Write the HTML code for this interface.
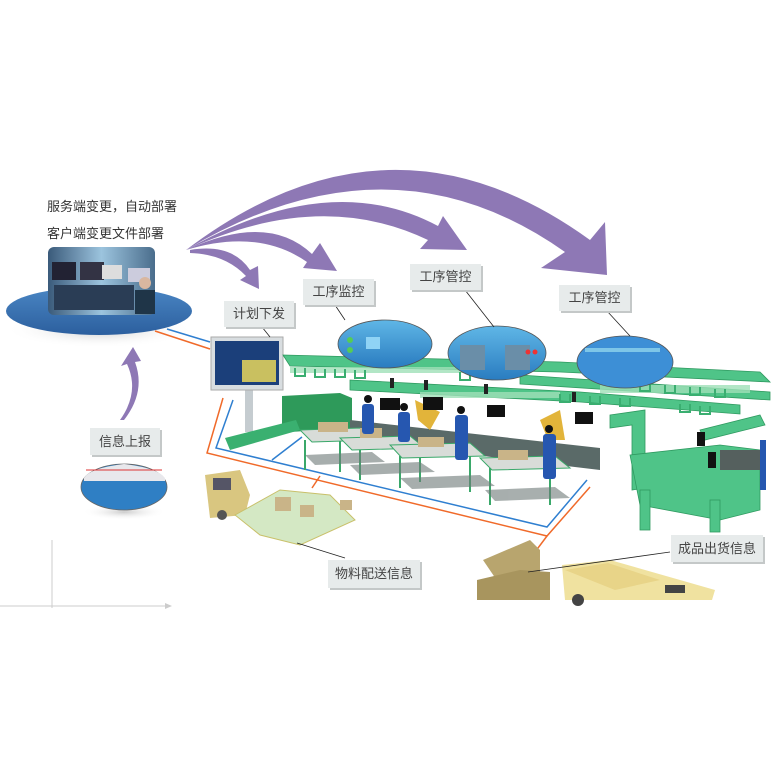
<!DOCTYPE html>
<html><head><meta charset="utf-8">
<style>
html,body{margin:0;padding:0;background:#fff;}
body{width:773px;height:773px;overflow:hidden;position:relative;font-family:"Liberation Sans","Noto Sans CJK SC",sans-serif;}
.t{position:absolute;font-size:13px;color:#333;white-space:nowrap;}
.lb{position:absolute;background:#e7ebeb;box-shadow:2px 2px 0 #c4c8c8;font-size:13px;color:#444;text-align:center;font-family:"Liberation Sans","Noto Sans CJK SC",sans-serif;}
svg{position:absolute;left:0;top:0;}
</style></head><body>
<svg width="773" height="773" viewBox="0 0 773 773">
<defs>
<linearGradient id="ell" x1="0" y1="0" x2="0" y2="1"><stop offset="0" stop-color="#4a86c4"/><stop offset="1" stop-color="#2c5f9e"/></linearGradient>
<linearGradient id="scr" x1="0" y1="0" x2="0" y2="1"><stop offset="0" stop-color="#5fb6e6"/><stop offset="1" stop-color="#2a7cc0"/></linearGradient>
<linearGradient id="ph" x1="0" y1="0" x2="1" y2="0"><stop offset="0" stop-color="#3a5a7a"/><stop offset="0.5" stop-color="#9cc4de"/><stop offset="1" stop-color="#4a6d8c"/></linearGradient>
<radialGradient id="sh"><stop offset="0" stop-color="#999" stop-opacity=".5"/><stop offset="1" stop-color="#fff" stop-opacity="0"/></radialGradient>
</defs>
<line x1="52" y1="540" x2="52" y2="608" stroke="#ccc"/>
<line x1="0" y1="606" x2="168" y2="606" stroke="#ccc"/>
<polygon points="172,606 165,603 165,609" fill="#ccc"/>
<ellipse cx="100" cy="330" rx="95" ry="18" fill="url(#sh)"/>
<ellipse cx="99" cy="311" rx="93" ry="24" fill="url(#ell)"/>
<rect x="48" y="247" width="107" height="68" rx="6" fill="url(#ph)"/>
<rect x="52" y="262" width="24" height="18" fill="#223"/><rect x="80" y="262" width="24" height="18" fill="#334"/><rect x="102" y="265" width="20" height="14" fill="#ddd"/><rect x="128" y="268" width="22" height="14" fill="#ccd"/>
<rect x="54" y="285" width="80" height="25" fill="#2a3d55"/>
<circle cx="145" cy="283" r="6" fill="#d9b7a0"/><rect x="135" y="290" width="20" height="24" fill="#1f3548"/>
<line x1="155" y1="331" x2="210" y2="349" stroke="#f06a2a" stroke-width="1.5"/>
<line x1="167" y1="329" x2="210" y2="342" stroke="#2f7fd0" stroke-width="1.5"/>
<polyline points="223,398 207,453 547,536 590,487" fill="none" stroke="#f06a2a" stroke-width="1.5"/>
<polyline points="233,400 216,448 547,527 587,480" fill="none" stroke="#2f7fd0" stroke-width="1.5"/>
<line x1="272" y1="460" x2="302" y2="437" stroke="#2f7fd0" stroke-width="1.5"/>
<line x1="312" y1="488" x2="320" y2="476" stroke="#f06a2a" stroke-width="1.5"/>
<line x1="547" y1="536" x2="520" y2="572" stroke="#f06a2a" stroke-width="1.5"/>
<g fill="#8e78b5">
<path d="M186,250 Q390,95 590,240 L605,222 L607,275 L541,268 L565,252 Q390,128 186,250 Z"/>
<path d="M186,250 Q330,168 438,226 L443,216 L467,250 L420,249 L428,240 Q320,188 186,250 Z"/>
<path d="M186,250 Q268,212 312,254 L320,243 L337,271 L303,268 L307,262 Q258,228 186,250 Z"/>
<path d="M190,250 Q232,243 250,270 L258,266 L259,289 L240,280 L246,276 Q225,254 190,253 Z"/>
<path d="M120,420 Q140,392 127,364 L121,366 L133,347 L141,361 L135,362 Q146,392 124,420 Z"/>
</g>
<ellipse cx="124" cy="512" rx="42" ry="8" fill="url(#sh)"/>
<ellipse cx="124" cy="487" rx="43" ry="23" fill="#2f7fc4" stroke="#666" stroke-width=".8"/>
<path d="M84,478 Q90,468 124,464 Q158,468 165,478 L165,481 L84,481Z" fill="#e8e8ec"/>
<line x1="86" y1="470" x2="162" y2="470" stroke="#d33" stroke-width="1"/>
<rect x="245" y="390" width="8" height="42" fill="#c5ccd0"/>
<rect x="211" y="337" width="72" height="53" fill="#d8dde0" stroke="#aaa"/>
<rect x="215" y="341" width="64" height="44" fill="#1b3f7a"/>
<rect x="242" y="360" width="34" height="22" fill="#c9c060"/>
<g fill="#4fc488" stroke="#2f9a60" stroke-width=".8">
<polygon points="283,355 560,362 760,372 770,382 560,372 290,366"/>
<polygon points="350,380 580,392 740,405 740,414 580,402 350,390"/>
<polygon points="520,375 770,392 770,400 520,384"/>
</g>
<g fill="#9fe0b8" opacity=".8">
<rect x="290" y="367" width="220" height="6"/><rect x="600" y="385" width="150" height="8"/><rect x="420" y="392" width="140" height="6"/>
</g>
<g fill="none" stroke="#3aae70" stroke-width="2">
<path d="M295,368 v8 h10 v-8 M315,369 v8 h10 v-8 M335,369 v8 h10 v-8 M355,370 v8 h10 v-8 M460,372 v8 h10 v-8 M640,383 v8 h10 v-8 M665,385 v8 h10 v-8 M690,387 v8 h10 v-8 M715,389 v8 h10 v-8"/>
<path d="M560,394 v8 h10 v-8 M590,396 v8 h10 v-8 M620,398 v8 h10 v-8 M680,404 v8 h10 v-8 M700,406 v8 h10 v-8"/>
</g>
<polygon points="282,396 340,393 352,398 352,428 290,432 282,425" fill="#2e9a5a"/>
<polygon points="225,438 296,420 300,430 230,450" fill="#3ab070"/>
<polygon points="350,420 600,448 600,470 350,440" fill="#5a6a68"/>
<g stroke="#3aa86a" stroke-width="2">
<line x1="305" y1="440" x2="305" y2="470"/><line x1="340" y1="440" x2="340" y2="472"/><line x1="360" y1="448" x2="360" y2="480"/><line x1="400" y1="456" x2="400" y2="488"/><line x1="420" y1="448" x2="420" y2="482"/><line x1="470" y1="456" x2="470" y2="492"/><line x1="490" y1="468" x2="490" y2="505"/><line x1="550" y1="468" x2="550" y2="505"/>
</g>
<g fill="#d8dcd8" stroke="#3aa86a" stroke-width="1">
<polygon points="300,430 360,428 375,440 312,442"/>
<polygon points="340,438 410,436 425,448 352,450"/>
<polygon points="390,445 470,443 485,456 402,458"/>
<polygon points="480,458 555,456 570,468 492,470"/>
</g>
<g fill="#6e7a78" opacity=".6">
<polygon points="305,455 372,452 385,462 315,465"/><polygon points="350,465 420,462 435,472 360,475"/><polygon points="400,478 480,475 495,486 412,489"/><polygon points="485,490 555,487 570,498 495,501"/>
</g>
<g fill="#c9b488"><rect x="318" y="422" width="30" height="10"/><rect x="360" y="428" width="22" height="10"/><rect x="418" y="437" width="26" height="10"/><rect x="498" y="450" width="30" height="10"/></g>
<g fill="#e2b43a"><polygon points="415,400 440,412 430,430 418,420"/><polygon points="540,420 560,410 565,440 548,440"/></g>
<g fill="#111"><rect x="380" y="398" width="20" height="12"/><rect x="423" y="397" width="20" height="13"/><rect x="487" y="405" width="18" height="12"/><rect x="575" y="412" width="18" height="12"/></g>
<g fill="#222"><rect x="390" y="378" width="4" height="10"/><rect x="424" y="380" width="4" height="10"/><rect x="484" y="384" width="4" height="10"/><rect x="572" y="392" width="4" height="10"/></g>
<g fill="#2657b0">
<rect x="362" y="404" width="12" height="30" rx="3"/><rect x="398" y="412" width="12" height="30" rx="3"/><rect x="455" y="415" width="13" height="45" rx="3"/><rect x="543" y="434" width="13" height="45" rx="3"/>
</g>
<g fill="#111"><circle cx="368" cy="399" r="4"/><circle cx="404" cy="407" r="4"/><circle cx="461" cy="410" r="4"/><circle cx="549" cy="429" r="4"/></g>
<g fill="#4fc488" stroke="#2f9a60" stroke-width=".8">
<polygon points="610,415 645,410 645,488 632,490 632,425 610,428"/>
<polygon points="630,455 720,445 760,450 760,510 720,520 640,505"/>
<rect x="640" y="490" width="10" height="40"/><rect x="710" y="500" width="10" height="32"/>
<polygon points="700,430 760,415 765,425 705,440"/>
</g>
<rect x="720" y="450" width="42" height="20" fill="#55605e"/>
<rect x="697" y="432" width="8" height="14" fill="#111"/><rect x="708" y="452" width="8" height="16" fill="#111"/>
<rect x="760" y="440" width="6" height="50" fill="#2657b0"/>
<polygon points="205,475 240,470 250,495 245,515 210,518" fill="#d9c680"/>
<rect x="213" y="478" width="18" height="12" fill="#556"/>
<circle cx="222" cy="515" r="5" fill="#555"/>
<g fill="#d4e8c4" stroke="#c9c06a" stroke-width="1">
<polygon points="235,515 280,490 330,495 355,520 300,545 260,535"/>
</g>
<g fill="#c9b488"><rect x="275" y="497" width="16" height="14"/><rect x="300" y="505" width="14" height="12"/><rect x="340" y="500" width="12" height="10"/></g>
<polygon points="483,560 530,540 540,550 540,575 500,585" fill="#b8a56e"/>
<polygon points="477,580 520,570 550,572 550,600 477,600" fill="#a8955e"/>
<polygon points="562,565 610,560 715,590 712,600 565,600" fill="#f0e2a0"/>
<polygon points="565,570 608,563 660,580 615,590" fill="#e8d488"/>
<rect x="665" y="585" width="20" height="8" fill="#444"/>
<circle cx="578" cy="600" r="6" fill="#444"/>
<ellipse cx="385" cy="344" rx="47" ry="24" fill="url(#scr)" stroke="#555" stroke-width=".8"/>
<ellipse cx="497" cy="353" rx="49" ry="27" fill="url(#scr)" stroke="#555" stroke-width=".8"/>
<ellipse cx="625" cy="362" rx="48" ry="26" fill="#3d8fd6" stroke="#555" stroke-width=".8"/>
<rect x="366" y="337" width="14" height="12" fill="#8fd3f5"/><circle cx="350" cy="340" r="3" fill="#5c5"/><circle cx="350" cy="350" r="3" fill="#5c5"/>
<rect x="460" y="345" width="25" height="25" fill="#6a8ea8"/><rect x="505" y="345" width="25" height="25" fill="#6a8ea8"/>
<circle cx="528" cy="352" r="2.5" fill="#e33"/><circle cx="535" cy="352" r="2.5" fill="#e33"/>
<rect x="585" y="348" width="75" height="4" fill="#7ec6e8"/>
<g stroke="#222" stroke-width=".8">
<line x1="262" y1="327" x2="270" y2="337"/>
<line x1="335" y1="305" x2="345" y2="320"/>
<line x1="465" y1="290" x2="494" y2="327"/>
<line x1="607" y1="311" x2="630" y2="336"/>
<line x1="297" y1="543" x2="345" y2="558"/>
<line x1="670" y1="552" x2="528" y2="572"/>
</g>
</svg>
<div class="t" style="left:47px;top:196px;">服务端变更，自动部署</div>
<div class="t" style="left:47px;top:223px;">客户端变更文件部署</div>
<div class="lb" style="left:224px;top:301px;width:70px;height:26px;line-height:26px;">计划下发</div>
<div class="lb" style="left:303px;top:279px;width:71px;height:26px;line-height:26px;">工序监控</div>
<div class="lb" style="left:410px;top:264px;width:71px;height:26px;line-height:26px;">工序管控</div>
<div class="lb" style="left:559px;top:285px;width:71px;height:26px;line-height:26px;">工序管控</div>
<div class="lb" style="left:90px;top:428px;width:70px;height:27px;line-height:27px;">信息上报</div>
<div class="lb" style="left:328px;top:560px;width:92px;height:28px;line-height:28px;">物料配送信息</div>
<div class="lb" style="left:671px;top:535px;width:92px;height:27px;line-height:27px;">成品出货信息</div>
</body></html>
